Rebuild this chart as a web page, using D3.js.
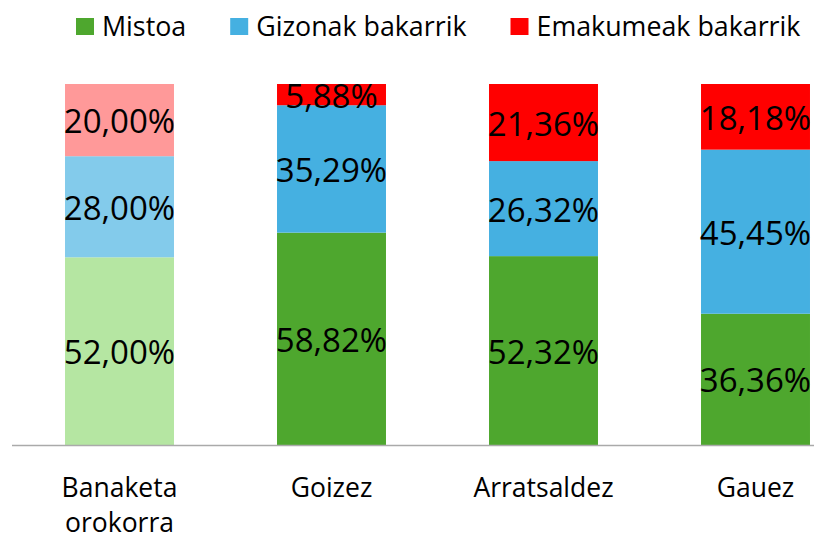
<!DOCTYPE html>
<html>
<head>
<meta charset="utf-8">
<script src="https://cdn.jsdelivr.net/npm/d3@7"></script>
<style>
  body { margin: 0; background: #fff; }
  text { font-family: "Open Sans", sans-serif; fill: #000; }
</style>
</head>
<body>
<svg width="814" height="537"></svg>
<script>
// Data
var categories = ["Banaketa orokorra", "Goizez", "Arratsaldez", "Gauez"];
var seriesNames = ["Mistoa", "Gizonak bakarrik", "Emakumeak bakarrik"];
var mistoa = [52.00, 58.82, 52.32, 36.36];
var gizonak = [28.00, 35.29, 26.32, 45.45];
var emakumeak = [20.00, 5.88, 21.36, 18.18];

var colors = ["#4ea72e", "#45b0e1", "#ff0000"];
var lightColors = ["#b5e6a2", "#83cbeb", "#ff9999"];

var svg = d3.select("svg"),
    width = +svg.attr("width"),
    height = +svg.attr("height");

var rows = categories.map(function(c, i) {
  return { cat: c, Mistoa: mistoa[i], "Gizonak bakarrik": gizonak[i], "Emakumeak bakarrik": emakumeak[i] };
});

var stack = d3.stack().keys(seriesNames).offset(d3.stackOffsetExpand);
var layers = stack(rows);

var x = d3.scaleBand()
    .domain(categories)
    .range([13.5, 861.5])
    .paddingInner(0.486)
    .paddingOuter(0.243);

var y = d3.scaleLinear().domain([0, 1]).range([445, 84]);

// Bars
var layer = svg.append("g").selectAll("g")
    .data(layers)
  .enter().append("g");

layer.selectAll("rect")
    .data(function(d) { return d.map(function(p) { p.key = d.key; p.idx = d.index; return p; }); })
  .enter().append("rect")
    .attr("x", function(d) { return x(d.data.cat); })
    .attr("y", function(d) { return y(d[1]); })
    .attr("width", x.bandwidth())
    .attr("height", function(d) { return y(d[0]) - y(d[1]); })
    .attr("fill", function(d, i) { return i === 0 ? lightColors[d.idx] : colors[d.idx]; });

// Value labels
var fmt = function(v) { return v.toFixed(2).replace(".", ",") + "%"; };
layer.selectAll("text")
    .data(function(d) { return d; })
  .enter().append("text")
    .attr("x", function(d) { return x(d.data.cat) + x.bandwidth() / 2; })
    .attr("y", function(d) { return (y(d[0]) + y(d[1])) / 2 + 13; })
    .attr("text-anchor", "middle")
    .style("font-size", "33px")
    .text(function(d) { return fmt(d.data[d.key]); });

// Axis baseline
svg.append("line")
    .attr("x1", 12).attr("x2", width)
    .attr("y1", 445.5).attr("y2", 445.5)
    .attr("stroke", "#aaaaaa")
    .attr("stroke-width", 1.5);

// Category labels
var xAxis = svg.append("g");
xAxis.selectAll("text")
    .data(categories)
  .enter().append("text")
    .attr("x", function(d) { return x(d) + x.bandwidth() / 2; })
    .attr("y", 497)
    .attr("text-anchor", "middle")
    .style("font-size", "26.5px")
    .each(function(d) {
      var words = d.split(" ");
      var t = d3.select(this);
      words.forEach(function(w, i) {
        t.append("tspan")
          .attr("x", x(d) + x.bandwidth() / 2)
          .attr("dy", i === 0 ? 0 : 35)
          .text(w);
      });
    });

// Legend
var legend = svg.append("g");
var lx = 76;
seriesNames.forEach(function(name, i) {
  legend.append("rect")
      .attr("x", lx).attr("y", 18)
      .attr("width", 18).attr("height", 17)
      .attr("fill", colors[i]);
  var t = legend.append("text")
      .attr("x", lx + 26)
      .attr("y", 36)
      .style("font-size", "26.8px")
      .text(name);
  lx += 26 + t.node().getComputedTextLength() + 44;
});
</script>
</body>
</html>
